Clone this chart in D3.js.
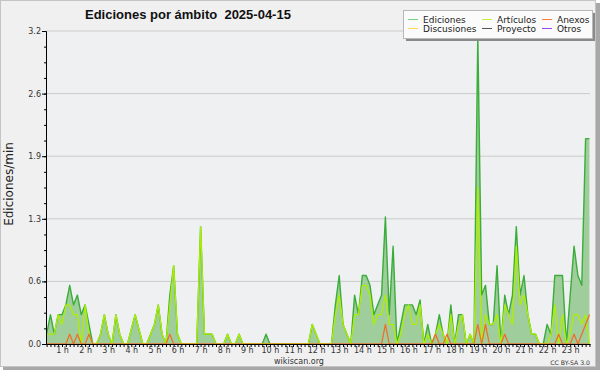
<!DOCTYPE html>
<html>
<head>
<meta charset="utf-8">
<script src="https://cdn.jsdelivr.net/npm/d3@7"></script>
<style>
  body { margin: 0; background: #fff; }
  svg { display: block; font-family: "DejaVu Sans", sans-serif; }
</style>
</head>
<body>
<div id="chart"></div>
<script>
// Ediciones por ámbito, 2025-04-15
// one value every 10 minutes (index 0 = 00:00), ediciones/min
var ediciones = [
  0.1,0.1,0.1,0.3,0.1,0.3,0.3,0.4,0.6,0.4,0.5,0.3,0.4,0.2,0,0,0.1,0.3,0.1,0,0.3,0.1,0,0,
  0.15,0.3,0.15,0,0,0.1,0.2,0.4,0.1,0,0.5,0.8,0.1,0,0,0,0,0,1.2,0.1,0.1,0.1,0,0,
  0,0.1,0,0,0.1,0,0,0,0,0,0,0.1,0,0,0,0,0,0,0,0,0,0,0,0.2,
  0.1,0,0,0,0,0.4,0.7,0.2,0.1,0,0.5,0.3,0.7,0.7,0.6,0.3,0.4,0.5,1.3,0.3,1.0,0,0.2,0.4,
  0.4,0.4,0.3,0.45,0,0.2,0,0.1,0.3,0.1,0,0.4,0,0.3,0.3,0,0.1,0,3.15,0.5,0.6,0.2,0.2,0.8,
  0,0.5,0.3,0.5,1.2,0.5,0.7,0.3,0.1,0.1,0,0,0.2,0.1,0.7,0.7,0.7,0,0.5,1.0,0.7,0.6,2.1,2.1
];
var articulos = [
  0.1,0.1,0.1,0.1,0.1,0.3,0.2,0.4,0.4,0.3,0.3,0,0.4,0.1,0,0,0.1,0.3,0.1,0,0.3,0.1,0,0,
  0.15,0.3,0.15,0,0,0.1,0.2,0.4,0.1,0,0.4,0.8,0.1,0,0,0,0,0,1.2,0.1,0.1,0.1,0,0,
  0,0.1,0,0,0.1,0,0,0,0,0,0,0,0,0,0,0,0,0,0,0,0,0,0,0.2,
  0.1,0,0,0,0,0.3,0.5,0.2,0.1,0,0.3,0.3,0.6,0.6,0.5,0.2,0.3,0.3,0.5,0.2,0.2,0,0.1,0.3,
  0.4,0.2,0.2,0.4,0,0.1,0,0.1,0.2,0.1,0,0.3,0,0.2,0.3,0,0.1,0,1.6,0,0.3,0.2,0.2,0.3,
  0,0.4,0.3,0.2,1.0,0.4,0.5,0.3,0.1,0.1,0,0,0,0.1,0.4,0,0.3,0,0.1,0.3,0.3,0.2,0.3,0
];
var anexos = [
  0,0,0,0,0,0,0,0,0.1,0,0.1,0,0,0.1,0,0,0,0,0,0,0,0,0,0,
  0,0,0,0,0,0,0,0,0,0,0.1,0,0,0,0,0,0,0,0,0,0,0,0,0,
  0,0,0,0,0,0,0,0,0,0,0,0,0,0,0,0,0,0,0,0,0,0,0,0,
  0,0,0,0,0,0,0,0,0,0,0,0,0,0,0,0,0,0,0.2,0,0,0,0,0,
  0,0,0,0,0,0,0,0.1,0,0,0.1,0,0,0,0,0,0,0,0.2,0,0.2,0,0,0,
  0,0.1,0,0,0,0,0,0,0,0,0,0,0,0,0,0.1,0,0,0,0.1,0,0.1,0.2,0.3
];
var discusiones = [
  0,0,0,0,0,0,0,0,0,0,0,0,0,0,0,0,0,0,0,0,0,0,0,0,
  0,0,0,0,0,0,0,0,0,0,0,0,0,0,0,0,0,0,0,0,0,0,0,0,
  0,0,0,0,0,0,0,0,0,0,0,0,0,0,0,0,0,0,0,0,0,0,0,0,
  0,0,0,0,0,0,0,0,0,0,0,0,0,0,0,0,0,0,0,0,0,0,0,0,
  0,0,0,0,0,0,0,0,0,0,0,0,0,0,0,0,0,0,0,0,0,0,0,0,
  0,0,0,0,0,0,0,0,0,0,0,0,0,0,0,0,0,0,0,0,0,0,0,0
];
var proyecto = discusiones.slice();
var otros = discusiones.slice();

var hourTicks = [1,2,3,4,5,6,7,8,9,10,11,12,13,14,15,16,17,18,19,20,21,22,23];
var yTicks = [0, 0.64, 1.28, 1.92, 2.56, 3.2];

var legendItems = [
  {name: "Ediciones", color: "#7ccf7c"},
  {name: "Discusiones", color: "#ffd84a"},
  {name: "Artículos", color: "#c6f03a"},
  {name: "Proyecto", color: "#555555"},
  {name: "Anexos", color: "#ff7a3d"},
  {name: "Otros", color: "#9b45ff"}
];

var svgWidth = 600;
var svgHeight = 370;

var margin = {top: 31, right: 10, bottom: 26, left: 46};
var width = svgWidth - margin.left - margin.right;
var height = svgHeight - margin.top - margin.bottom;

var svg = d3.select("#chart")
  .append("svg")
  .attr("width", svgWidth)
  .attr("height", svgHeight);

// frame + shadow
svg.append("rect").attr("x", 3).attr("y", 3).attr("width", 597).attr("height", 367).attr("fill", "#a8a8a8");
svg.append("rect").attr("x", 0.5).attr("y", 0.5).attr("width", 595).attr("height", 366)
  .attr("fill", "#f0f0f0").attr("stroke", "#c4c4c4");

var chartGroup = svg.append("g")
  .attr("transform", `translate(${margin.left}, ${margin.top})`);

chartGroup.append("rect")
  .attr("width", width).attr("height", height)
  .attr("fill", "#eff0f2");

svg.append("defs").append("clipPath").attr("id", "plotClip")
  .append("rect").attr("width", width).attr("height", height + 1);

// time in hours for every sample
var times = ediciones.map((d, i) => i / 6);

var xScale = d3.scaleLinear()
  .domain([0.307, 23.857])
  .range([0, width]);

var yScale = d3.scaleLinear()
  .domain([0, 3.2])
  .range([height, 0]);

// grid lines
chartGroup.append("g")
  .selectAll("line")
  .data(yTicks.slice(1))
  .enter()
  .append("line")
  .attr("x1", 0).attr("x2", width)
  .attr("y1", d => yScale(d)).attr("y2", d => yScale(d))
  .attr("stroke", "#cbcbcb");

var plot = chartGroup.append("g").attr("clip-path", "url(#plotClip)");

var area = d3.area()
  .x((d, i) => xScale(times[i]))
  .y0(yScale(0))
  .y1(d => yScale(d));

plot.append("path")
  .datum(ediciones)
  .attr("d", area)
  .attr("fill", "#9fce9c");

var line = d3.line()
  .x((d, i) => xScale(times[i]))
  .y(d => yScale(d));

var lineSeries = [
  {values: ediciones, color: "#3aad3a", w: 1.4},
  {values: otros, color: "#9b45ff", w: 1},
  {values: proyecto, color: "#555555", w: 1},
  {values: discusiones, color: "#ffd84a", w: 1},
  {values: articulos, color: "#aeee00", w: 1.3},
  {values: anexos, color: "#f26a26", w: 1.2}
];

lineSeries.forEach(function(s) {
  plot.append("path")
    .datum(s.values)
    .attr("d", line)
    .attr("fill", "none")
    .attr("stroke", s.color)
    .attr("stroke-width", s.w)
    .attr("stroke-linejoin", "round");
});

// axes
var bottomAxis = d3.axisBottom(xScale)
  .tickValues(times.filter(t => t >= 0.307 && t <= 23.857))
  .tickSize(3)
  .tickSizeOuter(0)
  .tickFormat("");

chartGroup.append("g")
  .attr("transform", `translate(0, ${height})`)
  .call(bottomAxis);

var hourAxis = d3.axisBottom(xScale)
  .tickValues(hourTicks)
  .tickSize(0)
  .tickPadding(3)
  .tickFormat(d => d + " h");

var hourG = chartGroup.append("g")
  .attr("transform", `translate(0, ${height})`)
  .call(hourAxis);
hourG.select(".domain").remove();
hourG.selectAll("text").attr("font-size", 8).attr("fill", "#333").attr("font-family", "DejaVu Sans");

var minorAxis = d3.axisLeft(yScale)
  .tickValues(d3.range(0, 21).map(i => i * 0.16))
  .tickSize(2)
  .tickSizeOuter(0)
  .tickFormat("");
chartGroup.append("g").call(minorAxis);

var leftAxis = d3.axisLeft(yScale)
  .tickValues(yTicks)
  .tickSize(4)
  .tickSizeOuter(0)
  .tickPadding(1)
  .tickFormat(d3.format(".1f"));

var leftG = chartGroup.append("g").call(leftAxis);
leftG.selectAll("text").attr("font-size", 8).attr("fill", "#333").attr("font-family", "DejaVu Sans");

// axis label
svg.append("text")
  .attr("transform", "translate(13, 184) rotate(-90)")
  .attr("text-anchor", "middle")
  .attr("font-size", 12)
  .attr("fill", "#222")
  .text("Ediciones/min");

// title (two spaces before the date)
svg.append("text")
  .attr("x", 85)
  .attr("y", 19)
  .attr("font-family", "Liberation Sans, Arial, sans-serif")
  .attr("font-weight", "bold")
  .attr("font-size", 13)
  .attr("fill", "#111")
  .style("white-space", "pre")
  .text("Ediciones por ámbito  2025-04-15");

// legend
var legend = svg.append("g");
legend.append("rect").attr("x", 406).attr("y", 13).attr("width", 189).attr("height", 28).attr("fill", "#8a8a8a");
legend.append("rect").attr("x", 403.5).attr("y", 10.5).attr("width", 189).attr("height", 28)
  .attr("fill", "#fbfbfb").attr("stroke", "#b8b8b8");

var colX = [408, 482, 542];
var rowY = [19.5, 28.5];
legendItems.forEach(function(item, i) {
  var col = Math.floor(i / 2), row = i % 2;
  legend.append("line")
    .attr("x1", colX[col]).attr("x2", colX[col] + 10)
    .attr("y1", rowY[row]).attr("y2", rowY[row])
    .attr("stroke", item.color).attr("stroke-width", 1);
  legend.append("text")
    .attr("x", colX[col] + 15)
    .attr("y", rowY[row] + 3.5)
    .attr("font-size", 9)
    .attr("fill", "#222")
    .text(item.name);
});

// footer texts
svg.append("text")
  .attr("x", 299).attr("y", 364)
  .attr("text-anchor", "middle")
  .attr("font-size", 8)
  .attr("fill", "#333")
  .text("wikiscan.org");

svg.append("text")
  .attr("x", 590).attr("y", 365)
  .attr("text-anchor", "end")
  .attr("font-size", 6.2)
  .attr("fill", "#333")
  .text("CC BY-SA 3.0");
</script>
</body>
</html>
